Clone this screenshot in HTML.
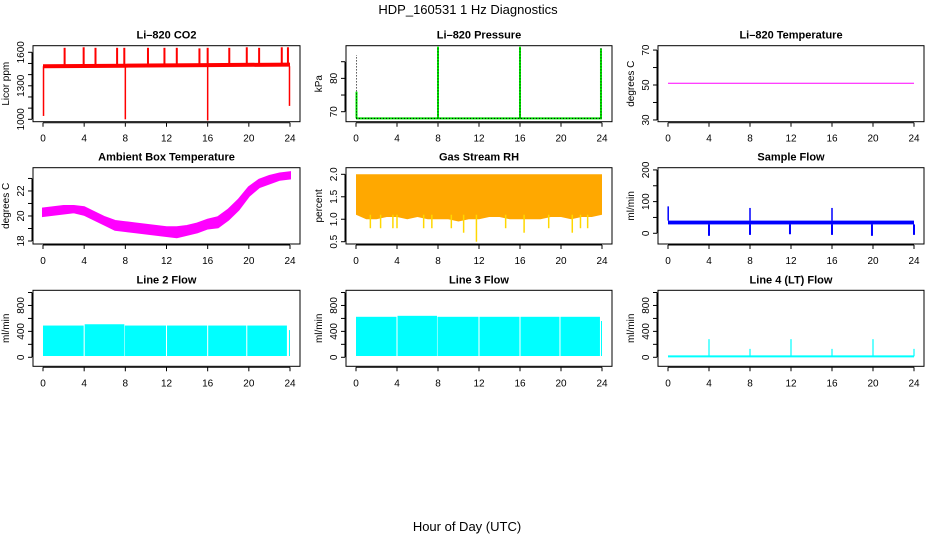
<!DOCTYPE html>
<html><head><meta charset="utf-8"><style>
html,body{margin:0;padding:0;background:#fff;}
svg{display:block;font-family:"Liberation Sans",sans-serif;}
</style></head><body>
<svg id="c" width="936" height="540" viewBox="0 0 936 540" xmlns="http://www.w3.org/2000/svg">
<text x="468" y="14" font-size="13" text-anchor="middle">HDP_160531  1 Hz Diagnostics</text>
<text x="467" y="531" font-size="13" text-anchor="middle">Hour of Day (UTC)</text>
</svg>
<script>
// ---- data ----
const hourTicks = [0,4,8,12,16,20,24];
// CO2 (ppm)
const co2Base = [[0,1475],[8,1480],[16,1485],[24,1490]];
const co2SpikeHours = [2.1,3.95,5.1,7.2,7.9,10.2,11.8,13.0,15.2,16.0,18.1,19.8,21.0,23.2,23.8];
const co2SpikeVals  = [1640,1645,1640,1640,1640,1640,1640,1640,1635,1640,1640,1645,1640,1645,1645];
const co2DipHours = [0.05,8.0,16.0,23.95];
const co2DipVals  = [1030,1000,990,1120];
const co2Ticks = [1000,1100,1200,1300,1400,1500,1600];
const co2Labels = [1000,1300,1600];
// Pressure (kPa)
const presBase = 68;
const presSpikeHours = [0.05,8.0,16.0,23.9];
const presSpikeVals = [87,89.5,89.5,89.2];
const presGreenVals = [76,89.5,89.5,89];
const presTicks = [70,75,80,85];
const presLabels = [70,80];
// Li-820 temperature
const tempVal = 51;
const tempTicks = [30,40,50,60,70];
const tempLabels = [30,50,70];
// Ambient box temperature: hour, low, high
const ambHours = [0,1,2,3,4,5,6,7,8,9,10,11,12,13,14,15,16,17,18,19,20,21,22,23,24];
const ambLow   = [20.0,20.1,20.2,20.3,20.1,19.7,19.3,18.9,18.8,18.7,18.6,18.5,18.4,18.3,18.5,18.7,19.0,19.1,19.7,20.5,21.6,22.3,22.6,22.9,23.0];
const ambHigh  = [20.6,20.7,20.8,20.8,20.7,20.3,19.9,19.6,19.5,19.4,19.3,19.2,19.1,19.1,19.2,19.4,19.7,19.9,20.5,21.3,22.3,22.9,23.2,23.4,23.5];
const ambTicks = [18,19,20,21,22,23];
const ambLabels = [18,20,22];
// Gas stream RH (percent)
const rhTop = 2.0;
const rhBottomHours = [0,1,2,3,4,5,6,7,8,9,10,11,12,13,14,15,16,17,18,19,20,21,22,23,24];
const rhBottomVals  = [1.1,1.0,1.0,1.05,1.05,1.0,1.05,1.0,1.0,1.0,0.95,1.0,1.0,1.05,1.05,1.0,1.0,1.0,1.0,1.05,1.05,1.0,1.05,1.05,1.1];
const rhDipHours = [1.4,2.4,3.6,4.0,6.6,7.4,9.3,10.5,11.75,14.6,16.4,18.8,21.1,21.9,22.6];
const rhDipVals  = [0.8,0.8,0.8,0.8,0.8,0.8,0.8,0.7,0.5,0.8,0.7,0.8,0.7,0.8,0.8];
const rhTicks = [0.5,1.0,1.5,2.0];
// Sample flow (ml/min)
const sfLow = 28, sfHigh = 40;
const sfSpikeHours = [0.02,8.0,16.0];
const sfSpikeVals = [85,80,80];
const sfDipHours = [4,8,11.9,16,19.9,24];
const sfDipVals = [-8,-5,-3,-5,-8,-5];
const sfTicks = [0,50,100,150,200];
const sfLabels = [0,100,200];
// Line flows: segment start/end hours and heights
const l2Start = [0.0,4.05,7.95,12.05,16.05,19.85,23.9];
const l2End   = [3.95,7.9,11.95,15.95,19.75,23.7,24.0];
const l2Vals  = [490,510,490,490,490,490,420];
const l3Start = [0.0,4.05,7.95,12.05,16.05,19.95,23.9];
const l3End   = [3.95,7.9,11.95,15.95,19.85,23.8,24.0];
const l3Vals  = [625,640,625,625,625,625,560];
const l4Base = 15;
const l4SpikeHours = [4,8,12,16,20,24];
const l4SpikeVals = [280,130,280,130,280,130];
const flowTicks = [0,200,400,600,800,1000];
const flowLabels = [0,400,800];

// ---- layout ----
const svg = document.getElementById('c');
const NS = 'http://www.w3.org/2000/svg';
const cols = [[33,300],[346,612],[658,924]];
const rows = [[45.7,121.7],[167.7,244],[290.3,366.3]];
function mk(tag, attrs, parent){const e=document.createElementNS(NS,tag);for(const k in attrs)e.setAttribute(k,attrs[k]);(parent||svg).appendChild(e);return e;}
function panel(name, title, ylab, c, r, y0, y1, ticks, labels){
  const [L,R]=cols[c],[T,B]=rows[r];
  const g=mk('g',{});
  
  
  const x=h=>L+10+(R-L-20)*h/24;
  const y=v=>B-(v-y0)/(y1-y0)*(B-T);
  const t=mk('text',{x:(L+R)/2,y:T-7,'font-size':11,'font-weight':'bold','text-anchor':'middle'},g);
  t.textContent=title;
  
  
  const plot=mk('g',{},g);
  
  
  const box=mk('rect',{x:L,y:T,width:R-L,height:B-T,fill:'none',stroke:'#000','stroke-width':1},g);
  
  
  const xa=mk('g',{},g);
  
  
  mk('line',{x1:x(0),x2:x(24),y1:B+1,y2:B+1,stroke:'#000'},xa);
  hourTicks.forEach(h=>{mk('line',{x1:x(h),x2:x(h),y1:B+1,y2:B+5,stroke:'#000'},xa);
    const tl=mk('text',{x:x(h),y:B+20,'font-size':10,'text-anchor':'middle'},xa);tl.textContent=h;});
  const ya=mk('g',{},g);
  
  
  mk('line',{x1:L-1,x2:L-1,y1:y(ticks[0]),y2:y(ticks[ticks.length-1]),stroke:'#000'},ya);
  ticks.forEach(v=>mk('line',{x1:L-5,x2:L-1,y1:y(v),y2:y(v),stroke:'#000'},ya));
  labels.forEach(v=>{const tl=mk('text',{x:0,y:0,'font-size':10,'text-anchor':'middle',transform:`translate(${L-9},${y(v)}) rotate(-90)`},ya);tl.textContent=v;});
  const yl=mk('text',{x:0,y:0,'font-size':10,'text-anchor':'middle',transform:`translate(${L-24},${(T+B)/2}) rotate(-90)`},g);
  yl.textContent=ylab;
  
  
  return {x,y,plot};
}
function vline(p,h,v0,v1,col,w){mk('line',{x1:p.x(h),x2:p.x(h),y1:p.y(v0),y2:p.y(v1),stroke:col,'stroke-width':w||1},p.plot);}

// CO2
let p=panel('co2-panel','Li\u2013820 CO2','Licor ppm',0,0,978.5,1659,co2Ticks,co2Labels);
mk('polyline',{points:co2Base.map(d=>p.x(d[0])+','+p.y(d[1])).join(' '),fill:'none',stroke:'#ff0000','stroke-width':4},p.plot);
co2SpikeHours.forEach((h,i)=>vline(p,h,co2Base[0][1],co2SpikeVals[i],'#ff0000',2));
co2DipHours.forEach((h,i)=>vline(p,h,co2Base[0][1],co2DipVals[i],'#ff0000',1.5));
// Pressure
p=panel('pressure-panel','Li\u2013820 Pressure','kPa',1,0,67,89.8,presTicks,presLabels);
mk('line',{x1:p.x(0),x2:p.x(24),y1:p.y(presBase),y2:p.y(presBase),stroke:'#00dd00','stroke-width':2},p.plot);
mk('line',{x1:p.x(0),x2:p.x(24),y1:p.y(presBase),y2:p.y(presBase),stroke:'#000','stroke-dasharray':'1,2'},p.plot);
presSpikeHours.forEach((h,i)=>{vline(p,h,presBase,presGreenVals[i],'#00ee00',2);
  mk('line',{x1:p.x(h),x2:p.x(h),y1:p.y(presBase),y2:p.y(presSpikeVals[i]),stroke:'#000','stroke-dasharray':'1,2'},p.plot);});
// Temperature
p=panel('li820-temperature-panel','Li\u2013820 Temperature','degrees C',2,0,29,72.5,tempTicks,tempLabels);
mk('line',{x1:p.x(0),x2:p.x(24),y1:p.y(tempVal),y2:p.y(tempVal),stroke:'#ff00ff'},p.plot);
// Ambient
p=panel('ambient-temperature-panel','Ambient Box Temperature','degrees C',0,1,17.76,23.86,ambTicks,ambLabels);
mk('polygon',{points:ambHours.map((h,i)=>p.x(h)+','+p.y(ambHigh[i])).concat(ambHours.slice().reverse().map((h,i)=>p.x(h)+','+p.y(ambLow[ambHours.length-1-i]))).join(' '),fill:'#ff00ff',stroke:'#ff00ff','stroke-width':2},p.plot);
// RH
p=panel('rh-panel','Gas Stream RH','percent',1,1,0.449,2.147,rhTicks,['0.5','1.0','1.5','2.0']);
mk('polygon',{points:[p.x(0)+','+p.y(rhTop),p.x(24)+','+p.y(rhTop)].concat(rhBottomHours.slice().reverse().map((h,i)=>p.x(h)+','+p.y(rhBottomVals[rhBottomHours.length-1-i]))).join(' '),fill:'#ffa800'},p.plot);
rhDipHours.forEach((h,i)=>vline(p,h,1.1,rhDipVals[i],'#ffd700',1.5));
// Sample flow
p=panel('sample-flow-panel','Sample Flow','ml/min',2,1,-33.8,207,sfTicks,sfLabels);
mk('rect',{x:p.x(0),y:p.y(sfHigh),width:p.x(24)-p.x(0),height:p.y(sfLow)-p.y(sfHigh),fill:'#0000ff'},p.plot);
sfSpikeHours.forEach((h,i)=>vline(p,h,sfHigh,sfSpikeVals[i],'#0000ff',1.5));
sfDipHours.forEach((h,i)=>vline(p,h,sfLow,sfDipVals[i],'#0000ff',2));
// Line 2
p=panel('line2-flow-panel','Line 2 Flow','ml/min',0,2,-139,1034,flowTicks,flowLabels);
l2Start.forEach((s,i)=>mk('rect',{x:p.x(s),y:p.y(l2Vals[i]),width:p.x(l2End[i])-p.x(s),height:p.y(20)-p.y(l2Vals[i]),fill:'#00ffff'},p.plot));
// Line 3
p=panel('line3-flow-panel','Line 3 Flow','ml/min',1,2,-139,1034,flowTicks,flowLabels);
l3Start.forEach((s,i)=>mk('rect',{x:p.x(s),y:p.y(l3Vals[i]),width:p.x(l3End[i])-p.x(s),height:p.y(20)-p.y(l3Vals[i]),fill:'#00ffff'},p.plot));
// Line 4
p=panel('line4-flow-panel','Line 4 (LT) Flow','ml/min',2,2,-139,1034,flowTicks,flowLabels);
mk('line',{x1:p.x(0),x2:p.x(24),y1:p.y(l4Base),y2:p.y(l4Base),stroke:'#00ffff','stroke-width':2},p.plot);
l4SpikeHours.forEach((h,i)=>vline(p,h,l4Base,l4SpikeVals[i],'#00ffff',1.2));
</script>
</body></html>
